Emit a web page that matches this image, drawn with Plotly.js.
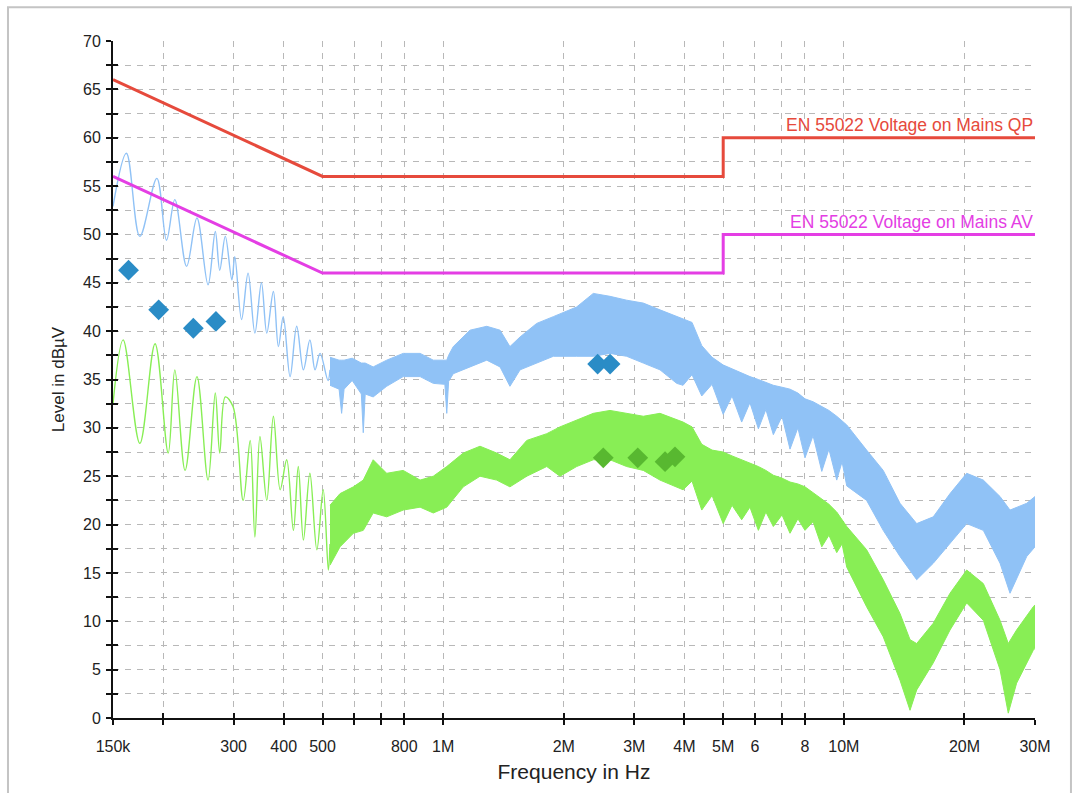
<!DOCTYPE html>
<html>
<head>
<meta charset="utf-8">
<script src="https://cdn.plot.ly/plotly-3.0.1.min.js"></script>
<style>
html,body{margin:0;padding:0;background:#fff;}
#chart{width:1078px;height:793px;}
</style>
</head>
<body>
<div id="chart"></div>
<script>
// ---- Frequencies in MHz, levels in dBµV ----
// Limit lines (EN 55022 class B)
const limitFreq = [0.15, 0.5, 5, 5, 30];
const limitQP   = [66, 56, 56, 60, 60];
const limitAV   = [56, 46, 46, 50, 50];

// Peak (QP pre-scan) trace, low-frequency part (single line)
const qpLowF = [0.150,0.162,0.175,0.193,0.204,0.214,0.229,0.243,0.259,0.270,0.277,0.286,0.297,0.302,0.314,0.326,0.339,0.352,0.363,0.377,0.388,0.399,0.415,0.431,0.448,0.465,0.479,0.493,0.516,0.522];
const qpLowL = [52.9,58.4,49.8,55.8,49.4,53.6,46.7,51.7,44.8,50.3,46.3,49.8,45.3,47.7,41.2,46.0,39.8,45.0,39.8,44.1,38.4,41.5,35.3,40.5,36.0,39.1,36.0,37.7,34.9,36.0];
// Peak trace, dense part: upper and lower envelope
const qpBandF  = [0.522,0.550,0.558,0.566,0.593,0.625,0.632,0.639,0.669,0.723,0.795,0.876,0.945,1.010,1.021,1.032,1.060,1.167,1.285,1.387,1.468,1.556,1.712,1.884,2.154,2.370,2.609,2.871,3.159,3.477,3.828,
                  3.97,4.18,4.42,4.69,5.00,5.26,5.56,5.83,6.12,6.39,6.67,7.01,7.34,7.68,8.00,8.38,8.81,9.18,9.60,9.90,10.17,
                  11.40,12.54,13.81,15.20,16.72,18.41,20.26,22.29,24.54,25.99,28.61,30.0];
const qpBandHi = [37.3,37.0,37.0,37.0,37.2,36.7,36.7,36.7,36.3,37.0,37.7,37.7,37.0,37.0,37.0,37.5,38.4,40.1,40.5,40.1,38.4,39.4,40.8,41.5,42.5,43.9,43.6,43.2,42.9,42.2,41.5,
                  41.3,40.9,38.5,37.3,36.5,36.1,35.7,35.3,35.0,34.7,34.4,34.2,34.0,33.6,33.0,32.7,32.2,31.8,31.2,30.7,30.3,
                  27.7,25.6,22.2,20.1,20.8,23.2,25.3,24.6,22.9,21.5,22.2,22.9];
const qpBandLo = [34.4,34.0,31.5,34.0,34.9,33.5,29.5,33.5,33.2,34.3,35.3,35.3,34.6,34.5,31.5,34.8,35.6,36.3,37.0,36.3,34.3,36.0,36.7,37.4,37.4,37.4,37.7,37.4,36.7,36.0,34.6,
                  34.4,35.5,33.3,34.5,31.4,33.3,30.6,32.6,29.9,31.9,29.3,31.2,27.8,30.0,26.9,29.2,25.5,27.8,24.6,26.5,24.0,
                  22.5,19.4,16.7,14.3,16.0,18.1,20.1,19.4,16.0,12.9,16.7,17.7];

// Average trace, low-frequency part (single line)
const avLowF = [0.150,0.159,0.175,0.191,0.206,0.214,0.227,0.243,0.259,0.270,0.277,0.286,0.299,0.317,0.330,0.339,0.349,0.363,0.377,0.392,0.407,0.423,0.435,0.448,0.465,0.484,0.502,0.517,0.522];
const avLowL = [32.5,39.1,28.4,38.7,27.4,36.0,25.6,35.3,24.6,33.6,27.4,33.2,32.2,22.5,28.7,18.7,29.1,22.5,31.2,23.6,26.7,19.4,26.0,18.4,25.3,17.4,23.6,15.3,18.0];
// Average trace, dense part: upper and lower envelope
const avBandF  = [0.522,0.553,0.597,0.632,0.669,0.723,0.795,0.876,0.945,1.021,1.123,1.236,1.360,1.468,1.617,1.814,1.957,2.154,2.370,2.609,2.871,3.159,3.477,3.828,
                  3.97,4.18,4.42,4.69,5.00,5.26,5.56,5.83,6.12,6.39,6.67,7.01,7.34,7.68,8.00,8.38,8.81,9.18,9.60,9.90,10.17,
                  11.40,12.54,13.81,14.63,15.20,16.72,18.41,20.26,22.29,24.54,25.73,26.99,29.70,30.0];
const avBandHi = [22.0,23.2,23.9,24.6,26.7,25.3,25.6,24.6,25.0,26.0,27.4,28.1,27.4,26.7,28.7,29.4,30.1,30.8,31.5,31.8,31.5,31.2,31.5,30.8,
                  30.6,30.1,28.3,27.7,27.5,27.1,26.7,26.4,26.0,25.6,25.1,24.8,24.4,24.2,23.9,23.3,22.6,22.1,21.3,20.5,19.8,
                  17.4,14.3,10.8,8.1,7.7,9.8,12.9,15.3,13.9,10.1,7.7,9.1,11.5,11.7];
const avBandLo = [15.8,17.7,19.1,19.4,21.2,20.8,21.5,21.8,21.2,21.8,23.9,25.0,24.6,23.9,25.0,26.0,25.0,26.0,26.7,26.7,26.0,25.6,24.6,23.9,
                  23.6,24.5,21.5,23.0,20.1,22.0,20.5,21.8,19.4,21.3,19.8,21.0,19.1,20.6,19.4,20.3,17.7,18.9,17.1,18.0,15.6,
                  11.5,8.4,3.9,0.8,2.9,5.7,9.1,11.9,10.1,5.0,0.5,3.6,7.0,7.2];

// Final measurement markers
const qpMarkF = [0.164,0.195,0.238,0.271,2.43,2.61];
const qpMarkL = [46.3,42.2,40.3,41.0,36.6,36.6];
const avMarkF = [2.51,3.06,3.58,3.79];
const avMarkL = [26.9,26.9,26.5,27.0];

// Axis ticks
const xTickVals = [0.15,0.2,0.3,0.4,0.5,0.6,0.7,0.8,1,2,3,4,5,6,7,8,10,20,30];
const xTickText = ['150k','','300','400','500','','','800','1M','2M','3M','4M','5M','6','','8','10M','20M','30M'];
const yTickVals = [0,2.5,5,7.5,10,12.5,15,17.5,20,22.5,25,27.5,30,32.5,35,37.5,40,42.5,45,47.5,50,52.5,55,57.5,60,62.5,65,67.5,70];
const yTickText = yTickVals.map(v => (v % 5 === 0 ? String(v) : ''));

const labelQP = 'EN 55022 Voltage on Mains QP';
const labelAV = 'EN 55022 Voltage on Mains AV';

const C_BLUE = '#90c2f6';
const C_GREEN = '#88ee55';
const FONT = 'Liberation Sans, Arial, sans-serif';

const traces = [
  // average band
  {x: avBandF, y: avBandHi, mode:'lines', line:{color:C_GREEN, width:1}, hoverinfo:'skip', showlegend:false},
  {x: avBandF, y: avBandLo, mode:'lines', line:{color:C_GREEN, width:1}, fill:'tonexty', fillcolor:C_GREEN, hoverinfo:'skip', showlegend:false},
  {x: avLowF, y: avLowL, mode:'lines', line:{color:C_GREEN, width:1.4, shape:'spline', smoothing:1}, showlegend:false},
  // peak band
  {x: qpBandF, y: qpBandHi, mode:'lines', line:{color:C_BLUE, width:1}, hoverinfo:'skip', showlegend:false},
  {x: qpBandF, y: qpBandLo, mode:'lines', line:{color:C_BLUE, width:1}, fill:'tonexty', fillcolor:C_BLUE, hoverinfo:'skip', showlegend:false},
  {x: qpLowF, y: qpLowL, mode:'lines', line:{color:C_BLUE, width:1.4, shape:'spline', smoothing:1}, showlegend:false},
  // limits
  {x: limitFreq, y: limitQP, mode:'lines', line:{color:'#e64a3c', width:3}, showlegend:false},
  {x: limitFreq, y: limitAV, mode:'lines', line:{color:'#e43ee4', width:3}, showlegend:false},
  // markers
  {x: qpMarkF, y: qpMarkL, mode:'markers', marker:{symbol:'diamond', size:16, color:'#2a8cc6'}, showlegend:false},
  {x: avMarkF, y: avMarkL, mode:'markers', marker:{symbol:'diamond', size:16, color:'#58b830'}, showlegend:false},
  // empty trace so the crossing-tick overlay axes exist
  {x: [], y: [], xaxis:'x2', yaxis:'y2', showlegend:false}
];

const xr = [Math.log10(0.15), Math.log10(30)];
const layout = {
  width:1078, height:793,
  margin:{l:113, r:43, t:41, b:75},
  paper_bgcolor:'#ffffff', plot_bgcolor:'#ffffff',
  font:{family:FONT, size:16, color:'#222'},
  showlegend:false,
  xaxis:{
    type:'log', range:xr, tickmode:'array', tickvals:xTickVals, ticktext:xTickText,
    ticks:'outside', ticklen:5, tickwidth:2, tickcolor:'#111',
    showline:true, linecolor:'#111', linewidth:2, mirror:false,
    showgrid:true, gridcolor:'#b8b8b8', gridwidth:1, griddash:'6px,6px',
    zeroline:false, ticklabelstandoff:8,
    tickfont:{family:FONT, size:16, color:'#222'},
    title:{text:'Frequency in Hz', font:{family:FONT, size:21, color:'#222'}, standoff:10}
  },
  yaxis:{
    range:[0,70], tickmode:'array', tickvals:yTickVals, ticktext:yTickText,
    ticks:'outside', ticklen:5, tickwidth:2, tickcolor:'#111',
    showline:true, linecolor:'#111', linewidth:2,
    showgrid:true, gridcolor:'#b8b8b8', gridwidth:1, griddash:'6px,6px',
    zeroline:false, ticklabelstandoff:2,
    tickfont:{family:FONT, size:16, color:'#222'},
    title:{text:'Level in dBµV', font:{family:FONT, size:17, color:'#222'}, standoff:14}
  },
  xaxis2:{type:'log', range:xr, overlaying:'x', anchor:'y2', side:'bottom', tickmode:'array', tickvals:xTickVals,
    ticks:'inside', ticklen:5, tickwidth:2, tickcolor:'#111', showticklabels:false, showgrid:false, showline:false, zeroline:false},
  yaxis2:{range:[0,70], overlaying:'y', anchor:'x2', side:'left', tickmode:'array', tickvals:yTickVals,
    ticks:'inside', ticklen:5, tickwidth:2, tickcolor:'#111', showticklabels:false, showgrid:false, showline:false, zeroline:false},
  annotations:[
    {xref:'paper', yref:'y', x:1, y:61.3, xanchor:'right', yanchor:'middle', text:labelQP, showarrow:false,
     font:{family:FONT, size:17.5, color:'#e64a3c'}},
    {xref:'paper', yref:'y', x:1, y:51.3, xanchor:'right', yanchor:'middle', text:labelAV, showarrow:false,
     font:{family:FONT, size:17.5, color:'#e43ee4'}}
  ],
  shapes:[
    {type:'rect', xref:'paper', yref:'paper', x0:-0.1139, x1:1.0390, y0:-0.14, y1:1.050,
     line:{color:'#c4c4c4', width:2}, fillcolor:'rgba(0,0,0,0)', layer:'below'}
  ]
};

Plotly.newPlot('chart', traces, layout, {staticPlot:true, displayModeBar:false});
</script>
</body>
</html>
